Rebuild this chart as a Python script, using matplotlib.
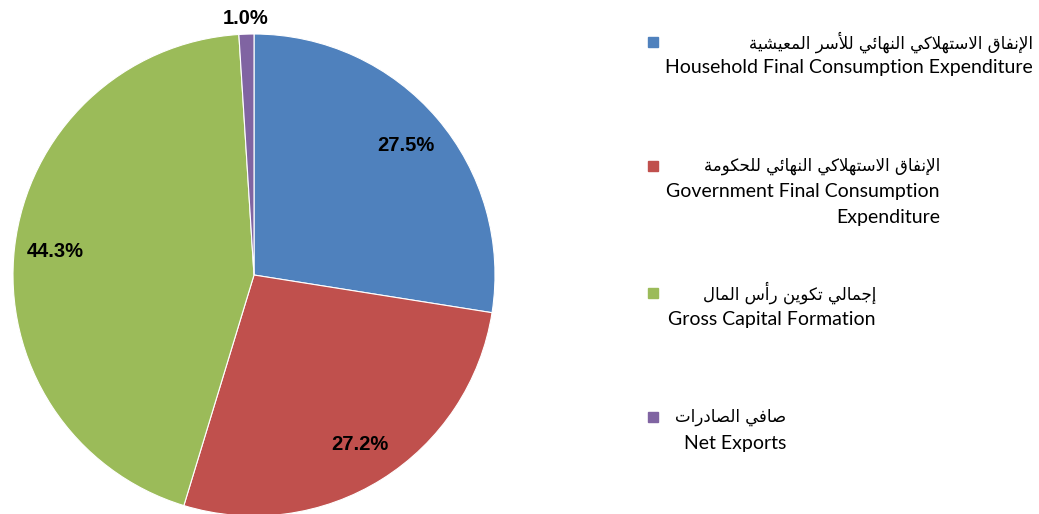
import matplotlib
matplotlib.use('Agg')
import matplotlib.pyplot as plt
import numpy as np

shares = [27.5, 27.2, 44.3, 1.0]
colors = ['#4F81BD', '#C0504D', '#9BBB59', '#8064A2']
names_ar = ['الإنفاق الاستهلاكي النهائي للأسر المعيشية',
            'الإنفاق الاستهلاكي النهائي للحكومة',
            'إجمالي تكوين رأس المال',
            'صافي الصادرات']
names_en = [['Household Final Consumption Expenditure'],
            ['Government Final Consumption', 'Expenditure'],
            ['Gross Capital Formation'],
            ['Net Exports']]

# Arabic contextual forms: isolated, final, initial, medial (None = does not join forward)
FORMS = {
    'ا': (0xFE8D, 0xFE8E, None, None), 'أ': (0xFE83, 0xFE84, None, None),
    'إ': (0xFE87, 0xFE88, None, None), 'ر': (0xFEAD, 0xFEAE, None, None),
    'د': (0xFEA9, 0xFEAA, None, None), 'و': (0xFEED, 0xFEEE, None, None),
    'ة': (0xFE93, 0xFE94, None, None),
    'ل': (0xFEDD, 0xFEDE, 0xFEDF, 0xFEE0), 'ن': (0xFEE5, 0xFEE6, 0xFEE7, 0xFEE8),
    'ف': (0xFED1, 0xFED2, 0xFED3, 0xFED4), 'ق': (0xFED5, 0xFED6, 0xFED7, 0xFED8),
    'س': (0xFEB1, 0xFEB2, 0xFEB3, 0xFEB4), 'ت': (0xFE95, 0xFE96, 0xFE97, 0xFE98),
    'ه': (0xFEE9, 0xFEEA, 0xFEEB, 0xFEEC), 'ك': (0xFED9, 0xFEDA, 0xFEDB, 0xFEDC),
    'ي': (0xFEF1, 0xFEF2, 0xFEF3, 0xFEF4), 'ئ': (0xFE89, 0xFE8A, 0xFE8B, 0xFE8C),
    'م': (0xFEE1, 0xFEE2, 0xFEE3, 0xFEE4), 'ع': (0xFEC9, 0xFECA, 0xFECB, 0xFECC),
    'ش': (0xFEB5, 0xFEB6, 0xFEB7, 0xFEB8), 'ح': (0xFEA1, 0xFEA2, 0xFEA3, 0xFEA4),
    'ج': (0xFE9D, 0xFE9E, 0xFE9F, 0xFEA0), 'ص': (0xFEB9, 0xFEBA, 0xFEBB, 0xFEBC),
}
LAM_ALEF = {'ا': (0xFEFB, 0xFEFC), 'أ': (0xFEF7, 0xFEF8), 'إ': (0xFEF9, 0xFEFA)}


def shape_arabic(text):
    out = []
    chars = list(text)
    i = 0
    prev_joins = False
    while i < len(chars):
        c = chars[i]
        if c not in FORMS:
            out.append(c)
            prev_joins = False
            i += 1
            continue
        if c == 'ل' and i + 1 < len(chars) and chars[i + 1] in LAM_ALEF:
            iso, fin = LAM_ALEF[chars[i + 1]]
            out.append(chr(fin if prev_joins else iso))
            prev_joins = False
            i += 2
            continue
        f = FORMS[c]
        nxt = chars[i + 1] if i + 1 < len(chars) else None
        next_joins = f[2] is not None and nxt in FORMS
        if prev_joins and next_joins:
            g = f[3]
        elif prev_joins:
            g = f[1]
        elif next_joins:
            g = f[2]
        else:
            g = f[0]
        out.append(chr(g))
        prev_joins = next_joins
        i += 1
    return ''.join(out[::-1])


W, H = 1039, 514
fig = plt.figure(figsize=(W / 100, H / 100), dpi=100)
fig.patch.set_facecolor('white')

cx, cy, r = 254, 275, 241
ax = fig.add_axes([(cx - r) / W, (H - cy - r) / H, 2 * r / W, 2 * r / H])
wedges, texts, autotexts = ax.pie(
    shares, colors=colors, startangle=90, counterclock=False,
    autopct='%1.1f%%', pctdistance=0.83,
    wedgeprops=dict(edgecolor='white', linewidth=0.8),
    textprops=dict(fontsize=14.5, fontweight='bold', family='Liberation Sans'))
ax.set_xlim(-1, 1)
ax.set_ylim(-1, 1)
ax.set_aspect('equal')
ax.axis('off')

# small slice label sits just outside the pie
w = wedges[3]
ang = np.deg2rad((w.theta1 + w.theta2) / 2)
autotexts[3].set_position((1.065 * np.cos(ang), 1.065 * np.sin(ang)))

# legend drawn by hand: coloured square, Arabic line, English line(s)
leg_y = [42, 166, 293, 417]
leg_right = [1033, 940, 876, 786]
for col, ar, en, y, xr in zip(colors, names_ar, names_en, leg_y, leg_right):
    fig.patches.append(plt.Rectangle((648 / W, (H - y - 5) / H), 10 / W, 10 / H,
                                     transform=fig.transFigure, color=col))
    fig.text(xr / W, (H - y) / H, shape_arabic(ar), ha='right', va='center',
             fontsize=12, family='DejaVu Sans')
    for k, line in enumerate(en):
        fig.text(xr / W, (H - y - 26 - 26 * k) / H, line, ha='right', va='center',
                 fontsize=14, family='Lato')

fig.savefig('out.png', dpi=100)
